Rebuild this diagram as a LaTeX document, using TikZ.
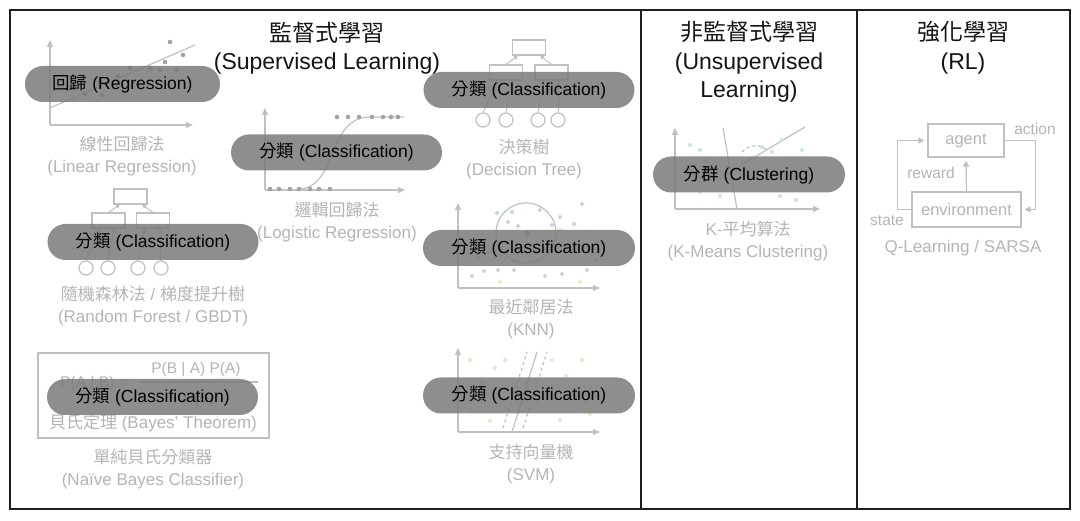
\documentclass[tikz,border=0pt]{standalone}
\usepackage{fontspec}
\setmainfont{Liberation Sans}
\newfontfamily\cjk{Noto Sans CJK TC}
\usetikzlibrary{arrows.meta}
\definecolor{faintgray}{RGB}{180,180,180}
\definecolor{linegray}{RGB}{192,192,192}
\definecolor{knnblue}{RGB}{196,214,228}
\definecolor{knnyellow}{RGB}{236,233,196}
\definecolor{kmgreen}{RGB}{200,230,214}

\begin{document}
\begin{tikzpicture}[x=1pt, y=-1pt,
    frame/.style={draw=black!88, line width=1.8pt},
    title/.style={text=black!92, align=center, font=\fontsize{23}{28.5}\selectfont},
    pill/.style={fill=black!52, fill opacity=0.85, text opacity=1, text=black,
      rounded corners=18pt, minimum height=36pt, inner sep=0pt,
      font=\fontsize{17.5}{19}\selectfont},
    faint/.style={text=faintgray, align=center, font=\fontsize{17}{22}\selectfont},
    small/.style={text=faintgray, font=\fontsize{15.5}{18}\selectfont, inner sep=1pt},
    plotline/.style={draw=linegray, line width=1.2pt},
    axis/.style={draw=linegray, line width=1.2pt, -{Triangle[length=7pt, width=6pt]}},
    treebox/.style={draw=linegray, line width=1.2pt, minimum width=33pt, minimum height=15pt, inner sep=0pt},
    leaf/.style={draw=linegray, line width=1.2pt, circle, minimum size=14pt, inner sep=0pt},
    treearrow/.style={draw=linegray, line width=1pt, -{Triangle[length=4pt, width=4pt]}},
    flow/.style={draw=linegray, line width=1.2pt, -{Triangle[length=6pt, width=6pt]}, shorten >=3pt},
    rlbox/.style={draw=linegray, line width=1.2pt, text=faintgray, font=\fontsize{16.5}{19}\selectfont, inner sep=0pt}]
  \useasboundingbox (0,0) rectangle (1080,521);

  % Frames
  \draw[frame] (10,10) rectangle (1070,509);
  \draw[frame] (641,10) -- (641,509);
  \draw[frame] (857,10) -- (857,509);

  % Titles
  \node[title] (sup-title) at (327,48) {{\cjk 監督式學習}\\(Supervised Learning)};
  \node[title] (unsup-title) at (749,62) {{\cjk 非監督式學習}\\(Unsupervised\\Learning)};
  \node[title] (rl-title) at (963,48) {{\cjk 強化學習}\\(RL)};

  % Linear regression
  \draw[axis] (50,125) -- (50,40);
  \draw[axis] (50,125) -- (193,125);
  \draw[plotline] (50,108) -- (195,45);
  \foreach \p in {{170,42},{183,55},{165,62},{150,68},{130,68},{177,70},{160,70},
                  {100,82},{85,94},{102,95},{75,88},{118,76}}
    \fill[linegray!85!black] (\p) circle (2.3pt);
  \node[faint] (lbl-linear) at (122,156) {{\cjk 線性回歸法}\\(Linear Regression)};

  % Logistic regression
  \draw[axis] (265,190) -- (265,108);
  \draw[axis] (265,190) -- (405,190);
  \draw[plotline] (298,189) .. controls (338,189) and (326,117) .. (370,117) -- (404,117);
  \foreach \x in {270,279,290,299,310,319,330}
    \fill[linegray!85!black] (\x,189) circle (2.3pt);
  \foreach \x in {337,348,359,372,383,391,398}
    \fill[linegray!85!black] (\x,117) circle (2.3pt);
  \node[faint] (lbl-logit) at (337,222) {{\cjk 邏輯回歸法}\\(Logistic Regression)};

  % Decision tree
  \node[treebox] (dt-root) at (529,47.5) {};
  \node[treebox] (dt-left) at (506,72.5) {};
  \node[treebox] (dt-right) at (551.5,72.5) {};
  \node[leaf] (dt-l1) at (483,120) {};
  \node[leaf] (dt-l2) at (506,120) {};
  \node[leaf] (dt-l3) at (538,120) {};
  \node[leaf] (dt-l4) at (558,120) {};
  \draw[treearrow] (dt-left.north) -- (dt-root.south -| 518,0);
  \draw[treearrow] (dt-right.north) -- (dt-root.south -| 540,0);
  \draw[treearrow] (dt-l1.north) -- (dt-left.south -| 498,0);
  \draw[treearrow] (dt-l2.north) -- (dt-left.south -| 512,0);
  \draw[treearrow] (dt-l3.north) -- (dt-right.south -| 544,0);
  \draw[treearrow] (dt-l4.north) -- (dt-right.south -| 558,0);
  \node[faint] (lbl-tree) at (524,159.5) {{\cjk 決策樹}\\(Decision Tree)};

  % Random forest
  \node[treebox] (rf-root) at (130.5,196.5) {};
  \node[treebox] (rf-left) at (108.5,220.5) {};
  \node[treebox] (rf-right) at (153,220.5) {};
  \node[leaf] (rf-l1) at (86,268) {};
  \node[leaf] (rf-l2) at (108,268) {};
  \node[leaf] (rf-l3) at (138,268) {};
  \node[leaf] (rf-l4) at (161,268) {};
  \draw[treearrow] (rf-left.north) -- (rf-root.south -| 120,0);
  \draw[treearrow] (rf-right.north) -- (rf-root.south -| 142,0);
  \draw[treearrow] (rf-l1.north) -- (rf-left.south -| 100,0);
  \draw[treearrow] (rf-l2.north) -- (rf-left.south -| 114,0);
  \draw[treearrow] (rf-l3.north) -- (rf-right.south -| 145,0);
  \draw[treearrow] (rf-l4.north) -- (rf-right.south -| 160,0);
  \node[faint] (lbl-forest) at (153,306.5) {{\cjk 隨機森林法} / {\cjk 梯度提升樹}\\(Random Forest / GBDT)};

  % Bayes
  \node[draw=linegray, line width=1.2pt, minimum width=231pt, minimum height=85pt, inner sep=0pt] (bayes-box) at (153.5,395.5) {};
  \node[small] (bayes-num) at (196,370) {P(B | A) P(A)};
  \node[small] (bayes-lhs) at (94,384) {P(A | B) =};
  \node[small] (bayes-den) at (199,399) {P(B)};
  \draw[plotline] (140,382) -- (258,382);
  \node[faint] (bayes-name) at (153,423) {{\cjk 貝氏定理} (Bayes’ Theorem)};
  \node[faint] (lbl-bayes) at (153,469) {{\cjk 單純貝氏分類器}\\(Naïve Bayes Classifier)};

  % KNN
  \draw[axis] (458,288) -- (458,203);
  \draw[axis] (458,288) -- (600,288);
  \draw[linegray, line width=1.2pt] (526,233) circle (30pt);
  \foreach \p in {{497,213},{512,212},{508,222},{518,226},{540,210},{560,217},{582,204},
                  {552,225},{574,224},{590,232},{470,240},{472,276},{484,271},{498,270},
                  {514,270},{545,276},{562,274},{587,270},{478,258},{596,260}}
    \fill[knnblue] (\p) circle (2pt);
  \foreach \p in {{530,262},{555,250},{500,282},{580,282},{560,230}}
    \fill[knnyellow] (\p) circle (2pt);
  \fill[black!35] (527,233) circle (2.5pt);
  \node[faint] (lbl-knn) at (531,319.5) {{\cjk 最近鄰居法}\\(KNN)};

  % SVM
  \draw[axis] (458,432) -- (458,348);
  \draw[axis] (458,432) -- (600,432);
  \draw[plotline] (512,432) -- (537,352);
  \draw[plotline, dashed] (503,428) -- (527,352);
  \draw[plotline, dashed] (523,428) -- (547,352);
  \foreach \p in {{470,360},{482,382},{495,368},{505,360},{470,410},{490,421},{552,360},
                  {566,376},{582,360},{576,400},{560,420},{590,414},{546,396},{482,400}}
    \fill[knnyellow] (\p) circle (2pt);
  \node[faint] (lbl-svm) at (531,464) {{\cjk 支持向量機}\\(SVM)};

  % K-means
  \draw[axis] (675,209) -- (675,128);
  \draw[axis] (675,209) -- (820,209);
  \draw[plotline] (723,128) -- (737,209);
  \draw[plotline] (733,170) -- (805,127);
  \draw[plotline, dashed] (742,152) .. controls (750,144) and (760,144) .. (767,150);
  \foreach \p in {{690,145},{700,150},{688,165},{705,160},{762,147},{772,152},{782,140},
                  {792,160},{802,150},{700,192},{720,196},{780,196},{796,200}}
    \fill[kmgreen] (\p) circle (2pt);
  \node[faint] (lbl-kmeans) at (748,241) {K-{\cjk 平均算法}\\(K-Means Clustering)};

  % RL loop
  \node[rlbox, minimum width=76pt, minimum height=33pt] (agent) at (966,140.5) {agent};
  \node[rlbox, minimum width=109pt, minimum height=35pt] (env) at (966.5,209.5) {environment};
  \draw[flow] (env.north) -- (agent.south);
  \draw[flow] (agent.east) -- ++(31,0) |- (env.east);
  \draw[flow] (env.west) -- ++(-14,0) |- (agent.west);
  \node[small] (rl-action) at (1035,129) {action};
  \node[small] (rl-reward) at (931,173) {reward};
  \node[small] (rl-state) at (887,221) {state};
  \node[faint] (lbl-rl) at (963,248) {Q-Learning / SARSA};

  % Pills
  \node[pill, minimum width=195pt] (reg) at (122.5,84) {{\cjk 回歸} (Regression)};
  \node[pill, minimum width=211pt] (cls-logit) at (336.5,152.5) {{\cjk 分類} (Classification)};
  \node[pill, minimum width=211pt] (cls-tree) at (529,90) {{\cjk 分類} (Classification)};
  \node[pill, minimum width=211pt] (cls-forest) at (153,242) {{\cjk 分類} (Classification)};
  \node[pill, minimum width=211pt] (cls-bayes) at (152.5,397) {{\cjk 分類} (Classification)};
  \node[pill, minimum width=212pt] (cls-knn) at (529,248) {{\cjk 分類} (Classification)};
  \node[pill, minimum width=212pt] (cls-svm) at (529,395.5) {{\cjk 分類} (Classification)};
  \node[pill, minimum width=192pt] (clu-kmeans) at (749,174.5) {{\cjk 分群} (Clustering)};
\end{tikzpicture}
\end{document}
